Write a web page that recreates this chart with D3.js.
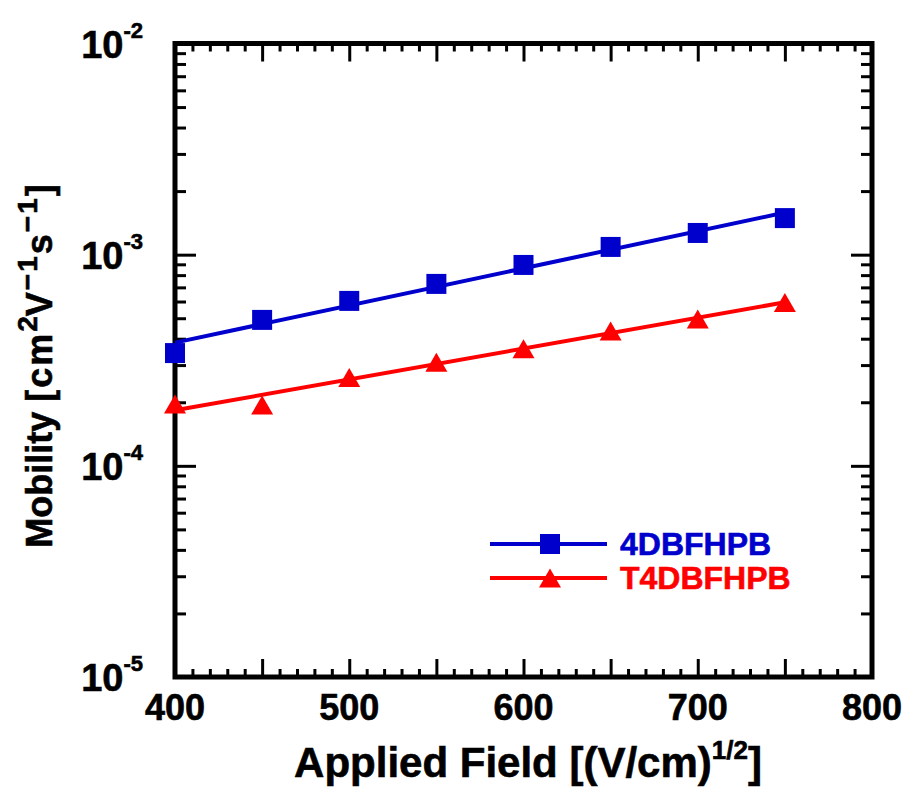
<!DOCTYPE html>
<html>
<head>
<meta charset="utf-8">
<script src="https://cdn.jsdelivr.net/npm/d3@7"></script>
<style>
  body { margin: 0; background: #fff; }
  text { font-family: "Liberation Sans", Arial, sans-serif; font-weight: bold; stroke-width: 0.6px; }
</style>
</head>
<body>
<svg id="chart" width="913" height="792"></svg>
<script>
// field values, sqrt(V/cm)
var fields = [400, 450, 500, 550, 600, 650, 700, 750];
// mobility, cm2/Vs
var mobility4DBFHPB = [3.42e-4, 4.91e-4, 6.04e-4, 7.27e-4, 8.94e-4, 1.088e-3, 1.267e-3, 1.49e-3];
var mobilityT4DBFHPB = [1.96e-4, 1.94e-4, 2.62e-4, 3.09e-4, 3.58e-4, 4.35e-4, 4.96e-4, 5.94e-4];
var seriesNames = ["4DBFHPB", "T4DBFHPB"];
var xTickLabels = [400, 500, 600, 700, 800];
var yDecades = [-5, -4, -3, -2];

var margin = {top: 43.5, right: 41, bottom: 115, left: 175};

var svg = d3.select("#chart"),
    width = +svg.attr("width") - margin.left - margin.right,
    height = +svg.attr("height") - margin.top - margin.bottom,
    g = svg.append("g").attr("transform", "translate(" + margin.left + "," + margin.top + ")");

var x = d3.scaleLinear().domain([400, 800]).range([0, width]);
var y = d3.scaleLog().domain([1e-5, 1e-2]).range([height, 0]);

var blue = "#0000cd", red = "#ff0000";

// tick values
var xMinor = d3.range(400, 801, 10).filter(function(d) { return d % 50 != 0; });
var xMajor = d3.range(400, 801, 50);
var yMajor = yDecades.map(function(e) { return Math.pow(10, e); });
var yMinor = [];
yDecades.slice(0, 3).forEach(function(e) {
  for (var k = 2; k <= 9; k++) yMinor.push(k * Math.pow(10, e));
});

function tickAxis(axis, vals, len, tr) {
  var a = g.append("g")
      .attr("transform", tr)
      .call(axis.tickValues(vals).tickSize(-len).tickFormat(""));
  a.select(".domain").remove();
  a.selectAll("line").attr("stroke", "#000").attr("stroke-width", 3);
}

tickAxis(d3.axisBottom(x), xMinor, 8, "translate(0," + height + ")");
tickAxis(d3.axisBottom(x), xMajor, 18, "translate(0," + height + ")");
tickAxis(d3.axisTop(x), xMinor, 8, "translate(0,0)");
tickAxis(d3.axisTop(x), xMajor, 18, "translate(0,0)");
tickAxis(d3.axisLeft(y), yMinor, 11, "translate(0,0)");
tickAxis(d3.axisLeft(y), yMajor, 21, "translate(0,0)");
tickAxis(d3.axisRight(y), yMinor, 11, "translate(" + width + ",0)");
tickAxis(d3.axisRight(y), yMajor, 21, "translate(" + width + ",0)");

// frame
g.append("rect")
    .attr("width", width)
    .attr("height", height)
    .attr("fill", "none")
    .attr("stroke", "#000")
    .attr("stroke-width", 5);

// x tick labels
g.append("g").selectAll("text")
  .data(xTickLabels)
  .enter().append("text")
    .attr("x", function(d) { return x(d); })
    .attr("y", height + 43)
    .attr("text-anchor", "middle")
    .attr("font-size", 36)
    .attr("stroke", "#000")
    .text(function(d) { return d; });

// y tick labels 10^n
var yl = g.append("g").selectAll("text")
  .data(yDecades)
  .enter().append("text")
    .attr("x", -32)
    .attr("y", function(d) { return y(Math.pow(10, d)) + 14; })
    .attr("text-anchor", "end")
    .attr("font-size", 38)
    .attr("stroke", "#000");
yl.append("tspan").text("10");
yl.append("tspan")
    .attr("font-size", 22)
    .attr("dy", -20)
    .text(function(d) { return d; });

// axis titles
svg.append("text")
    .attr("x", 528)
    .attr("y", 777)
    .attr("text-anchor", "middle")
    .attr("font-size", 42)
    .attr("stroke", "#000")
    .html('Applied Field [(V/cm)<tspan font-size="26" dy="-18">1/2</tspan><tspan dy="18">]</tspan>');

svg.append("text")
    .attr("transform", "translate(52,366) rotate(-90)")
    .attr("text-anchor", "middle")
    .attr("font-size", 36)
    .attr("stroke", "#000")
    .html('Mobility <tspan letter-spacing="2">[cm</tspan><tspan font-size="28" dy="-15">2</tspan><tspan dy="15" letter-spacing="2">V</tspan>' +
          '<tspan font-size="28" dy="-15" letter-spacing="2">\u22121</tspan><tspan dy="15" letter-spacing="2">s</tspan>' +
          '<tspan font-size="28" dy="-15" letter-spacing="2">\u22121</tspan><tspan dy="15">]</tspan>');

// least squares fit in log space
function fitLine(xs, ys) {
  var ly = ys.map(Math.log10);
  var mx = d3.mean(xs), my = d3.mean(ly);
  var sxy = d3.sum(xs, function(d, i) { return (d - mx) * (ly[i] - my); });
  var sxx = d3.sum(xs, function(d) { return (d - mx) * (d - mx); });
  var b = sxy / sxx, a = my - b * mx;
  return [xs[0], xs[xs.length - 1]].map(function(v) { return [v, Math.pow(10, a + b * v)]; });
}

var line = d3.line()
    .x(function(d) { return x(d[0]); })
    .y(function(d) { return y(d[1]); });

var series = [
  {name: seriesNames[0], values: mobility4DBFHPB, color: blue, shape: "square"},
  {name: seriesNames[1], values: mobilityT4DBFHPB, color: red, shape: "triangle"}
];

var tri = "M0,-9.5L11,9.5L-11,9.5Z";
var sq = "M-10,-10H10V10H-10Z";

series.forEach(function(s) {
  g.append("path")
      .attr("d", line(fitLine(fields, s.values)))
      .attr("fill", "none")
      .attr("stroke", s.color)
      .attr("stroke-width", 4);

  g.append("g").selectAll("path")
    .data(fields)
    .enter().append("path")
      .attr("transform", function(d, i) { return "translate(" + x(d) + "," + y(s.values[i]) + ")"; })
      .attr("d", s.shape == "square" ? sq : tri)
      .attr("fill", s.color);
});

// legend
var legend = svg.append("g")
  .selectAll("g")
  .data(series)
  .enter().append("g")
    .attr("transform", function(d, i) { return "translate(490," + (544 + i * 34) + ")"; });

legend.append("line")
    .attr("x1", 0)
    .attr("x2", 117)
    .attr("stroke", function(d) { return d.color; })
    .attr("stroke-width", 4);

legend.append("path")
    .attr("transform", "translate(60,0)")
    .attr("d", function(d) { return d.shape == "square" ? sq : tri; })
    .attr("fill", function(d) { return d.color; });

legend.append("text")
    .attr("x", 130)
    .attr("y", 11)
    .attr("font-size", 32)
    .attr("fill", function(d) { return d.color; })
    .attr("stroke", function(d) { return d.color; })
    .text(function(d) { return d.name; });
</script>
</body>
</html>
